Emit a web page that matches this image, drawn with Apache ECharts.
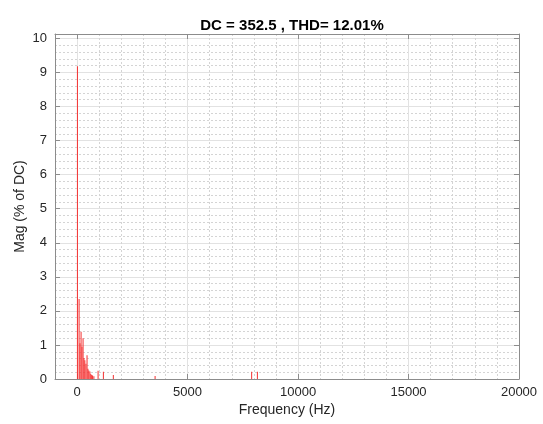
<!DOCTYPE html>
<html>
<head>
<meta charset="utf-8">
<script src="https://cdn.jsdelivr.net/npm/echarts@6/dist/echarts.min.js"></script>
<style>
  html, body { margin: 0; padding: 0; background: #ffffff; }
  #chart { width: 543px; height: 424px; }
</style>
</head>
<body>
<div id="chart"></div>
<script>
// Harmonic spectrum of the DC output, magnitudes in % of DC
const freqHz = [15, 90, 130, 180, 220, 270, 310, 350, 400, 450, 490, 530, 580, 620, 660, 700, 760, 950, 1190, 1640, 3530, 7900, 8160];
const magPct = [9.18, 2.35, 1.05, 1.39, 0.95, 1.20, 0.62, 0.55, 0.45, 0.70, 0.30, 0.25, 0.22, 0.15, 0.12, 0.10, 0.08, 0.24, 0.21, 0.12, 0.09, 0.21, 0.21];

// Axis ranges and tick labels
const xRange = [-1000, 20000];
const xMajorTicks = [0, 5000, 10000, 15000, 20000];
const xMinorStep = 1000;
const yRange = [0, 10.13];
const yTicks = [0, 1, 2, 3, 4, 5, 6, 7, 8, 9, 10];

const titleText = 'DC = 352.5 , THD= 12.01%';
const xName = 'Frequency (Hz)';
const yName = 'Mag (% of DC)';

const FONT = '"Liberation Sans", Arial, Helvetica, sans-serif';
const TEXT = '#262626';
const BOX = '#8c8c8c';
const MAJOR = '#e2e2e2';
const MINOR = '#d4d4d4';

const barData = freqHz.map((f, i) => [f, magPct[i]]);

const chart = echarts.init(document.getElementById('chart'), null, { renderer: 'canvas' });

const option = {
  backgroundColor: '#ffffff',
  animation: false,
  title: {
    text: titleText,
    left: 287,
    textAlign: 'center',
    top: 13,
    textStyle: { fontFamily: FONT, fontSize: 15, fontWeight: 'bold', color: '#000' }
  },
  grid: { left: 55, right: 24, top: 34, bottom: 45, containLabel: false },
  xAxis: [
    {
      // minor dotted vertical grid, every 1000 Hz
      type: 'value',
      min: xRange[0], max: xRange[1], interval: xMinorStep,
      axisLine: { show: false },
      axisTick: { show: false },
      axisLabel: { show: false },
      splitLine: { show: true, lineStyle: { color: MINOR, type: [2, 2], width: 1 } }
    },
    {
      type: 'value', position: 'bottom',
      min: xRange[0], max: xRange[1], interval: xMinorStep,
      name: xName, nameLocation: 'middle', nameGap: 24, nameMoveOverlap: false,
      nameTextStyle: { fontFamily: FONT, fontSize: 14, color: TEXT },
      axisLine: { onZero: false, lineStyle: { color: BOX, width: 1 } },
      axisTick: { show: true, inside: true, length: 5, customValues: xMajorTicks, lineStyle: { color: BOX } },
      axisLabel: {
        customValues: xMajorTicks,
        fontFamily: FONT, fontSize: 13, color: TEXT, margin: 7,
        formatter: v => String(v)
      },
      splitLine: { show: true, lineStyle: { color: MAJOR, type: 'solid', width: 1 } }
    },
    {
      type: 'value', position: 'top',
      min: xRange[0], max: xRange[1], interval: xMinorStep,
      axisLine: { onZero: false, lineStyle: { color: BOX, width: 1 } },
      axisTick: { show: true, inside: true, length: 5, customValues: xMajorTicks, lineStyle: { color: BOX } },
      axisLabel: { show: false },
      splitLine: { show: false }
    }
  ],
  yAxis: [
    {
      type: 'value',
      min: yRange[0], max: yRange[1], interval: 1,
      name: yName, nameLocation: 'middle', nameGap: 28, nameRotate: 90, nameMoveOverlap: false,
      nameTextStyle: { fontFamily: FONT, fontSize: 14, color: TEXT },
      axisLine: { show: true, onZero: false, lineStyle: { color: BOX, width: 1 } },
      axisTick: { show: true, inside: true, length: 5, customValues: yTicks, lineStyle: { color: BOX } },
      axisLabel: {
        customValues: yTicks,
        fontFamily: FONT, fontSize: 13, color: TEXT, margin: 8,
        formatter: v => String(v)
      },
      splitLine: { show: true, lineStyle: { color: MAJOR, width: 1 } },
      minorTick: { show: false, splitNumber: 5 },
      minorSplitLine: { show: true, lineStyle: { color: MINOR, type: [2, 2], width: 1 } }
    },
    {
      type: 'value', position: 'right',
      min: yRange[0], max: yRange[1], interval: 1,
      axisLine: { show: true, onZero: false, lineStyle: { color: BOX, width: 1 } },
      axisTick: { show: true, inside: true, length: 5, customValues: yTicks, lineStyle: { color: BOX } },
      axisLabel: { show: false },
      splitLine: { show: false }
    }
  ],
  series: [
    {
      type: 'bar',
      xAxisIndex: 1, yAxisIndex: 0,
      data: barData,
      barWidth: 1,
      z: 5,
      itemStyle: { color: '#f53030' }
    }
  ]
};

chart.setOption(option);
</script>
</body>
</html>
